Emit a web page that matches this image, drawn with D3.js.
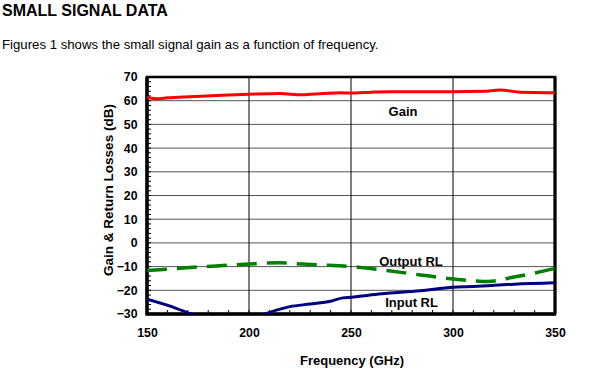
<!DOCTYPE html>
<html lang="en">
<head>
<meta charset="UTF-8">
<title>Small Signal Data</title>
<style>
  body { margin: 0; background: #fff; font-family: Arial, "Liberation Sans", sans-serif; }
  svg text { font-family: Arial, "Liberation Sans", sans-serif; }
  .tick text { font-size: 12.3px; font-weight: bold; fill: #000; }
</style>
<script src="https://d3js.org/d3.v7.min.js"></script>
</head>
<body>
<svg id="chart" width="592" height="376"></svg>
<script>
  // Data
  const freq       = [150, 155, 160, 171, 187, 200, 215, 226, 236, 245, 250, 260, 269, 280, 300, 315, 323, 333, 346, 350];
  const gain       = [61.4, 60.8, 61.2, 61.7, 62.3, 62.7, 63.0, 62.5, 63.0, 63.4, 63.2, 63.6, 63.8, 63.8, 63.8, 64.0, 64.5, 63.6, 63.4, 63.4];

  const outFreq    = [150, 166, 184, 200, 215, 226, 236, 250, 265, 284, 300, 310, 317, 330, 340, 350];
  const outputRL   = [-11.7, -10.7, -9.7, -8.9, -8.4, -8.9, -9.3, -10.0, -11.4, -13.5, -15.2, -16.0, -16.3, -14.4, -12.7, -10.8];

  const inFreq     = [150, 164, 173, 185, 196, 207, 220, 230, 240, 246, 250, 265, 284, 300, 310, 330, 350];
  const inputRL    = [-23.8, -27.5, -30.5, -33.5, -33.5, -30.2, -26.9, -25.8, -24.6, -23.2, -22.9, -21.5, -20.2, -18.7, -18.4, -17.4, -16.8];

  const xTicks = [150, 200, 250, 300, 350];
  const yTicks = [70, 60, 50, 40, 30, 20, 10, 0, -10, -20, -30];

  const svg = d3.select("#chart");

  const pLeft = 147, pRight = 555, pTop = 77, pBottom = 314;
  const x = d3.scaleLinear().domain([150, 350]).range([pLeft, pRight]);
  const y = d3.scaleLinear().domain([-30, 70]).range([pBottom, pTop]);

  // Heading text
  svg.append("text").attr("x", 2).attr("y", 15.5)
    .style("font-size", "16px").style("font-weight", "bold")
    .text("SMALL SIGNAL DATA");
  svg.append("text").attr("x", 2).attr("y", 49)
    .style("font-size", "13.2px")
    .text("Figures 1 shows the small signal gain as a function of frequency.");

  // Horizontal grid
  svg.append("g")
    .selectAll("line")
    .data(yTicks.filter(d => d !== 70 && d !== -30))
    .join("line")
    .attr("x1", pLeft).attr("x2", pRight)
    .attr("y1", d => y(d)).attr("y2", d => y(d))
    .attr("stroke", "#555").attr("stroke-width", 1);

  // Vertical grid
  svg.append("g")
    .selectAll("line")
    .data(xTicks.slice(1, -1))
    .join("line")
    .attr("x1", d => x(d)).attr("x2", d => x(d))
    .attr("y1", pTop).attr("y2", pBottom)
    .attr("stroke", "#000").attr("stroke-width", 1);

  // Minor ticks (inside)
  svg.append("g")
    .selectAll("line")
    .data(d3.range(-30, 71, 2))
    .join("line")
    .attr("x1", pLeft).attr("x2", pLeft + 4)
    .attr("y1", d => y(d)).attr("y2", d => y(d))
    .attr("stroke", "#000").attr("stroke-width", 1);
  svg.append("g")
    .selectAll("line")
    .data(d3.range(150, 351, 10))
    .join("line")
    .attr("x1", d => x(d)).attr("x2", d => x(d))
    .attr("y1", pBottom).attr("y2", pBottom - 4)
    .attr("stroke", "#000").attr("stroke-width", 1);

  // Axes labels
  const xAxis = svg.append("g")
    .attr("transform", `translate(0,${pBottom})`)
    .call(d3.axisBottom(x).tickValues(xTicks).tickSize(0).tickPadding(14.5));
  xAxis.select(".domain").remove();

  const yAxis = svg.append("g")
    .attr("transform", `translate(${pLeft},0)`)
    .call(d3.axisLeft(y).tickValues(yTicks).tickSize(0).tickPadding(9.5));
  yAxis.select(".domain").remove();

  // Frame
  svg.append("rect")
    .attr("x", pLeft).attr("y", pTop)
    .attr("width", pRight - pLeft).attr("height", pBottom - pTop)
    .attr("fill", "none").attr("stroke", "#000").attr("stroke-width", 2.5);
  svg.append("line").attr("x1", pLeft).attr("x2", pLeft)
    .attr("y1", pTop).attr("y2", pBottom + 1.5)
    .attr("stroke", "#000").attr("stroke-width", 3.5);
  svg.append("line").attr("x1", pLeft).attr("x2", pRight + 1)
    .attr("y1", pBottom).attr("y2", pBottom)
    .attr("stroke", "#000").attr("stroke-width", 3.5);
  svg.append("line").attr("x1", pRight).attr("x2", pRight)
    .attr("y1", pTop).attr("y2", pBottom)
    .attr("stroke", "#000").attr("stroke-width", 3);

  // Clip region for series
  svg.append("clipPath").attr("id", "plot")
    .append("rect").attr("x", pLeft).attr("y", pTop)
    .attr("width", pRight - pLeft).attr("height", pBottom - pTop);

  const line = d3.line().x(d => x(d[0])).y(d => y(d[1])).curve(d3.curveMonotoneX);
  const series = svg.append("g").attr("clip-path", "url(#plot)");

  series.append("path")
    .datum(d3.zip(freq, gain))
    .attr("fill", "none").attr("stroke", "#ff0000").attr("stroke-width", 3)
    .attr("d", line);

  series.append("path")
    .datum(d3.zip(outFreq, outputRL))
    .attr("fill", "none").attr("stroke", "#008000").attr("stroke-width", 3.5)
    .attr("stroke-dasharray", "20,10")
    .attr("d", line);

  series.append("path")
    .datum(d3.zip(inFreq, inputRL))
    .attr("fill", "none").attr("stroke", "#000080").attr("stroke-width", 3)
    .attr("d", line);

  // Series labels
  const lbl = [["Gain", 275.5, 53.5], ["Output RL", 279.4, -9.8], ["Input RL", 279.7, -26.9]];
  svg.append("g")
    .selectAll("text")
    .data(lbl)
    .join("text")
    .attr("x", d => x(d[1])).attr("y", d => y(d[2]))
    .attr("text-anchor", "middle")
    .style("font-size", "13px").style("font-weight", "bold")
    .text(d => d[0]);

  // Axis titles
  svg.append("text")
    .attr("x", 352).attr("y", 364.5)
    .attr("text-anchor", "middle")
    .style("font-size", "13px").style("font-weight", "bold")
    .text("Frequency (GHz)");
  svg.append("text")
    .attr("transform", `translate(113,190) rotate(-90)`)
    .attr("text-anchor", "middle")
    .style("font-size", "13.5px").style("font-weight", "bold")
    .text("Gain & Return Losses (dB)");
</script>
</body>
</html>
